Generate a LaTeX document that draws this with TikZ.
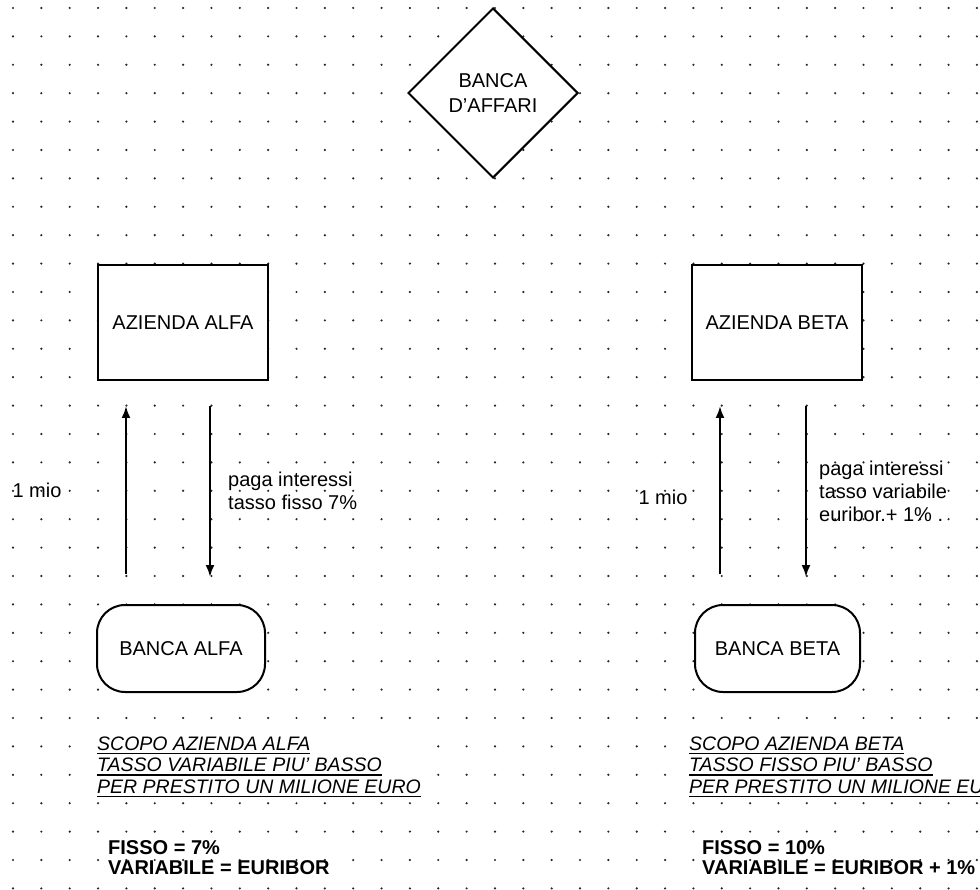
\documentclass[tikz,border=0pt]{standalone}
\usepackage{fontspec}
\setmainfont{Liberation Sans}
\usetikzlibrary{shapes.geometric,arrows.meta}
\newcommand\myul[1]{\setbox0=\hbox{#1}\rlap{\copy0}\rule[-4pt]{\wd0}{1.8pt}}
\begin{document}
\begin{tikzpicture}[x=1pt,y=-1pt,
  lbl/.style={inner sep=0pt, font=\fontsize{20}{23}\selectfont, align=left},
  boxtxt/.style={font=\fontsize{20}{25}\selectfont, align=center},
  frame/.style={draw, line width=2pt, fill=white, inner sep=0pt},
  azbox/.style={frame, rectangle, minimum width=170pt, minimum height=115pt},
  bankbox/.style={frame, rectangle, rounded corners=28pt, minimum height=87pt},
  arr/.style={line width=2.2pt, -{Latex[length=12pt,width=9pt]}},
  goal/.style={inner sep=0pt, fill=white, align=left, font=\fontsize{19.5}{21.5}\selectfont\itshape},
  rates/.style={inner sep=0pt, align=left, font=\fontsize{20}{20}\selectfont\bfseries},
  griddot/.style={fill=black!85}]
\useasboundingbox (0,0) rectangle (980,890);
\clip (0,0) rectangle (980,890);
\fill[white] (0,0) rectangle (980,890);
% dot grid
\foreach \i in {0,...,34}
  \foreach \j in {0,...,31}
    \fill[griddot] (13+28.35*\i, 8+28.4*\j) circle (1.2pt);

% shapes
\node[frame, diamond, minimum width=170pt, minimum height=170pt, boxtxt] (bank) at (493,93) {BANCA\\D'AFFARI};
\node[azbox, boxtxt] (azA) at (183,322.5) {AZIENDA ALFA};
\node[azbox, boxtxt] (azB) at (777,322.5) {AZIENDA BETA};
\node[bankbox, minimum width=168pt, boxtxt] (bankA) at (181,648.5) {BANCA ALFA};
\node[bankbox, minimum width=165pt, boxtxt] (bankB) at (777.5,648.5) {BANCA BETA};

% arrows
\draw[arr, shorten <=30pt, shorten >=25pt] ([xshift=-55pt]bankA.north) -- ([xshift=-57pt]azA.south);
\draw[arr, shorten <=25pt, shorten >=27pt] ([xshift=27pt]azA.south) -- ([xshift=29pt]bankA.north);
\draw[arr, shorten <=30pt, shorten >=25pt] ([xshift=-57.5pt]bankB.north) -- ([xshift=-57pt]azB.south);
\draw[arr, shorten <=25pt, shorten >=27pt] ([xshift=29pt]azB.south) -- ([xshift=28.5pt]bankB.north);

% labels
\node[lbl] (mioA) at (37,490) {1 mio};
\node[lbl] (mioB) at (663,497) {1 mio};
\node[lbl, anchor=west] (payA) at (228,491) {paga interessi\\tasso fisso 7\%};
\node[lbl, anchor=west] (payB) at (819,491.5) {paga interessi\\tasso variabile\\euribor.+ 1\% .};

% goals
\node[goal, anchor=west] (goalA) at (97,767) {\myul{SCOPO AZIENDA ALFA}\\\myul{TASSO VARIABILE PIU' BASSO}\\\myul{PER PRESTITO UN MILIONE EURO}};
\node[goal, anchor=west] (goalB) at (689,767) {\myul{SCOPO AZIENDA BETA}\\\myul{TASSO FISSO PIU' BASSO}\\\myul{PER PRESTITO UN MILIONE EURO}};

% rates
\node[rates, anchor=west] (rateA) at (108,858) {FISSO = 7\%\\VARIABILE = EURIBOR};
\node[rates, anchor=west] (rateB) at (702,858) {FISSO = 10\%\\VARIABILE = EURIBOR + 1\%};
\end{tikzpicture}
\end{document}
